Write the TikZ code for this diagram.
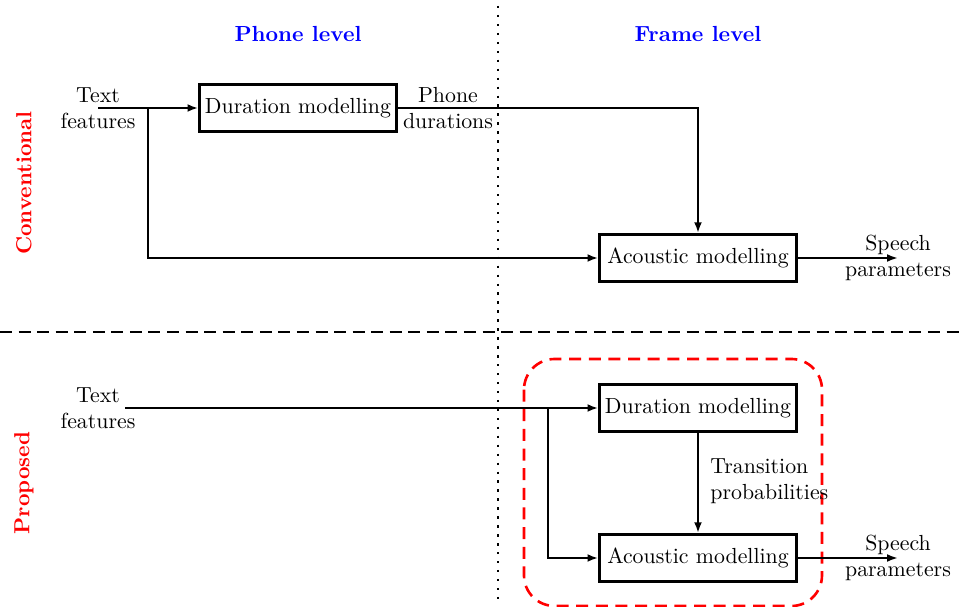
\documentclass[tikz,border=0pt]{standalone}
\usetikzlibrary{arrows.meta,calc}
\begin{document}
\begin{tikzpicture}[x=0.458pt,y=-0.458pt,
  box/.style={draw,line width=1.2pt,minimum width=90pt,minimum height=21.5pt,inner sep=2pt},
  flow/.style={line width=1.2pt,-{Latex[length=5pt,width=3.6pt]}},
  plain/.style={line width=1.2pt},
  lbl/.style={align=center,inner sep=0pt},
  level/.style={text=blue,font=\bfseries},
  side/.style={text=red,font=\bfseries,rotate=90},
  divider/.style={line width=1.2pt,dash pattern=on 5.5pt off 3pt},
  sepdots/.style={line width=1.1pt,dash pattern=on 1.1pt off 3pt},
  group/.style={draw=red,line width=1.2pt,dash pattern=on 5.5pt off 3.5pt,rounded corners=14pt}]
\useasboundingbox (0,0) rectangle (961,607);

% separators between levels and between systems
\draw[sepdots] (498,6) -- (498,603);
\draw[divider] (0,332) -- (961,332);

% headings
\node[level] (phone) at (298,34) {Phone level};
\node[level] (frame) at (698,34) {Frame level};
\node[side] (conv) at (24,183) {Conventional};
\node[side] (prop) at (24,483) {Proposed};

% conventional pipeline
\node[lbl] (tf1) at (98,108) {Text\\features};
\node[box] (dm1) at (298,108) {Duration modelling};
\node[box] (am1) at (698,258) {Acoustic modelling};
\node[lbl] (pd) at (448,108) {Phone\\durations};
\node[lbl] (sp1) at (898,258) {Speech\\parameters};
\coordinate (b1) at (148,108);

\draw[plain] (tf1.center) -- (b1);
\draw[flow] (b1) -- (dm1.west);
\draw[flow] (b1) |- (am1.west);
\draw[flow] (dm1.east) -| (am1.north);
\draw[flow] (am1.east) -- (sp1.center);

% proposed pipeline
\draw[group] (524,359) rectangle (822,606);
\node[lbl] (tf2) at (98,408) {Text\\features};
\coordinate (s2) at (125,408);
\node[box] (dm2) at (698,408) {Duration modelling};
\node[box] (am2) at (698,558) {Acoustic modelling};
\coordinate (b2) at (548,408);
\node[lbl,align=left,anchor=west] (tp) at (710,481) {Transition\\probabilities};
\node[lbl] (sp2) at (898,558) {Speech\\parameters};

\draw[flow] (s2) -- (dm2.west);
\draw[flow] (b2) |- (am2.west);
\draw[flow] (dm2.south) -- (am2.north);
\draw[flow] (am2.east) -- (sp2.center);
\end{tikzpicture}
\end{document}
